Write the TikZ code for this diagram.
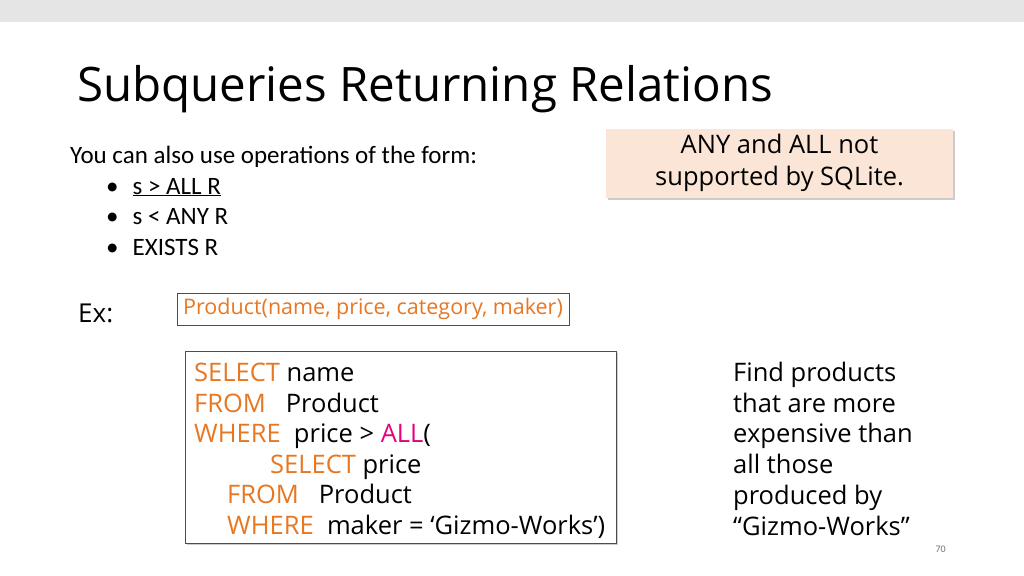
\documentclass[tikz,border=0pt]{standalone}
\usepackage{fontspec}
\setmainfont{Open Sans}
\newfontfamily\calibri{Carlito}
\usetikzlibrary{positioning,shadows}
\definecolor{kw}{HTML}{E87722}
\definecolor{allc}{HTML}{E6007E}
\definecolor{pinkbox}{HTML}{FBE5D6}
\tikzset{
  line/.style={anchor=base west,inner sep=0pt,font=\fontsize{25.5}{30}\selectfont},
  bullet/.style={anchor=base west,inner sep=0pt,font=\calibri\fontsize{25}{30}\selectfont},
  boxed/.style={draw=black!70,drop shadow={shadow xshift=2pt,shadow yshift=-2pt,opacity=.4}}
}
\newcommand{\kw}[1]{\textcolor{kw}{#1}}
\begin{document}
\begin{tikzpicture}[x=1pt,y=-1pt]
\useasboundingbox[fill=white] (0,0) rectangle (1024,575);
\fill[black!10] (0,0) rectangle (1024,22);
% title
\node[anchor=base west,inner sep=0pt,font=\fontsize{47.5}{56}\selectfont] (title) at (77,102) {Subqueries Returning Relations};
% bullets
\node[bullet] (intro) at (70,163) {You can also use operations of the form:};
\foreach \y/\t [count=\i] in {194/\underline{s > ALL R},224/s < ANY R,255/EXISTS R}{
  \node[bullet] (b\i) at (106,\y) {•\hspace{14pt}\t};
}
% note
\node[boxed,fill=pinkbox,draw=none,minimum width=347pt,minimum height=69pt,align=center,
  font=\fontsize{25.5}{32}\selectfont] (note) at (779.5,163) {ANY and ALL not\\supported by SQLite.};
% example
\node[anchor=base west,inner sep=0pt,font=\fontsize{26}{30}\selectfont] (ex) at (78,322) {Ex:};
\node[draw=black!70,anchor=west,text=kw,minimum height=32pt,inner xsep=6pt,
  font=\fontsize{21.5}{26}\selectfont] (schema) at (177,309) {Product(name, price, category, maker)};
\node[boxed,fill=white,minimum width=431pt,minimum height=192pt] (sql) at (400.5,447) {};
\node[line] (l1) at (194,381) {\kw{SELECT} name};
\node[line] (l2) at (194,412) {\kw{FROM}\ \ \ Product};
\node[line] (l3) at (194,442) {\kw{WHERE}\ \ price > \textcolor{allc}{ALL}(};
\node[line] (l4) at (270,473) {\kw{SELECT} price};
\node[line] (l5) at (227,503) {\kw{FROM}\ \ \ Product};
\node[line] (l6) at (227,534) {\kw{WHERE}\ \ maker = ‘Gizmo-Works’)};
% explanation
\node[anchor=north west,inner sep=0pt,align=left,font=\fontsize{25.5}{30.7}\selectfont] (find) at (733,362)
  {Find products\\that are more\\expensive than\\all those\\produced by\\“Gizmo-Works”};
\node[anchor=east,inner sep=0pt,text=black!55,font=\calibri\fontsize{10}{12}\selectfont] (page) at (946,549) {70};
\end{tikzpicture}
\end{document}
